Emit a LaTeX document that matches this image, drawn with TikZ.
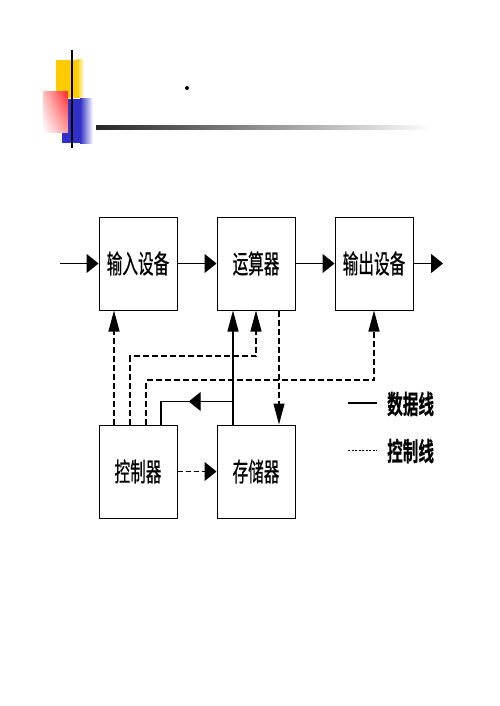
\documentclass[tikz,border=0pt]{standalone}
\usepackage{fontspec}
\usepackage{graphicx}
\usetikzlibrary{arrows.meta,positioning,calc,decorations.markings,shadings}
\newfontfamily\cjk[FakeBold=0.8]{Noto Sans CJK SC}
\newfontfamily\cjkb[FakeBold=0.6]{Noto Sans CJK SC Bold}
\definecolor{Gold}{HTML}{FFCC00}
\definecolor{Red}{HTML}{FF2A2A}
\definecolor{Blue}{HTML}{3030C8}
\newcommand{\tall}[1]{\scalebox{0.6}[1]{#1}}

\begin{document}
\begin{tikzpicture}[x=1pt,y=-1pt,
    n/.style={draw,line width=1pt,minimum width=78pt,minimum height=93pt,inner sep=0pt,font=\cjk\fontsize{26pt}{26pt}\selectfont},
    d/.style={-{Triangle[length=12pt,width=19pt]},line width=1.1pt},
    dv/.style={-{Triangle[length=21pt,width=11pt]},line width=1.1pt},
    c/.style={d,dash pattern=on 5pt off 3pt},
    cv/.style={dv,dash pattern=on 6pt off 3pt},
    lg/.style={anchor=west,inner sep=0pt,font=\cjkb\fontsize{26pt}{26pt}\selectfont}]
    \useasboundingbox (0,0) rectangle (499,706);
    % title bar
    \fill[Gold] (56,60) rectangle (77,98);
    \shade[left color=Gold,right color=white] (77,60) rectangle (84,98);
    \fill[Blue] (62,99) rectangle (80,143);
    \shade[left color=Blue,right color=white] (80,99) rectangle (93,143);
    \shade[upper right=Red,upper left=Red!30!white,lower left=white,lower right=Red!45!white] (43,92) rectangle (68,132);
    \draw[line width=1.5pt] (72,50) -- (72,148);
    \shade[left color=black!85,right color=white] (96,125.5) rectangle (433,129);
    \fill (187,88) circle (2);
    % units
    \node[n] (in) at (138,263.5) {\tall{输入设备}};
    \node[n,right=39pt of in] (alu) {\tall{运算器}};
    \node[n,right=39pt of alu] (out) {\tall{输出设备}};
    \node[n,below=114pt of in] (ctl) {\tall{控制器}};
    \node[n,right=39pt of ctl] (mem) {\tall{存储器}};
    \coordinate (src) at (60,263.5);
    \coordinate (dst) at (443,263.5);
    % data lines
    \draw[d] (src) -- (in);
    \draw[d] (in) -- (alu);
    \draw[d] (alu) -- (out);
    \draw[d] (out) -- (dst);
    \draw[dv] ([xshift=-23pt]mem.north) -- ([xshift=-23pt]alu.south);
    \draw[line width=1.1pt,postaction={decorate},decoration={markings,mark=at position 0.57 with {\arrow{Triangle[length=12pt,width=19pt]}}}]
      ([xshift=-23pt]mem.north) -- ++(0,-23) -| ([xshift=23pt]ctl.north);
    % control lines
    \draw[cv] ([xshift=-24pt]ctl.north) -- ([xshift=-24pt]in.south);
    \draw[cv] ([xshift=-8pt]ctl.north) |- ([yshift=-45.5pt]alu.south) -- (alu.south);
    \draw[cv] ([xshift=8pt]ctl.north) |- ([yshift=-69.5pt]out.south) -- (out.south);
    \draw[cv] ([xshift=23pt]alu.south) -- ([xshift=23pt]mem.north);
    \draw[c] (ctl) -- (mem);
    % legend
    \coordinate (l1) at (348,403); \coordinate (l1e) at (377,403);
    \coordinate (l2) at (348,450); \coordinate (l2e) at (377,450);
    \draw[line width=1.1pt] (l1) -- (l1e);
    \node[lg] (dl) at (387,404) {\tall{数据线}};
    \draw[line width=0.8pt,dash pattern=on 2pt off 1.5pt] (l2) -- (l2e);
    \node[lg] (cl) at (387,451) {\tall{控制线}};
\end{tikzpicture}
\end{document}
